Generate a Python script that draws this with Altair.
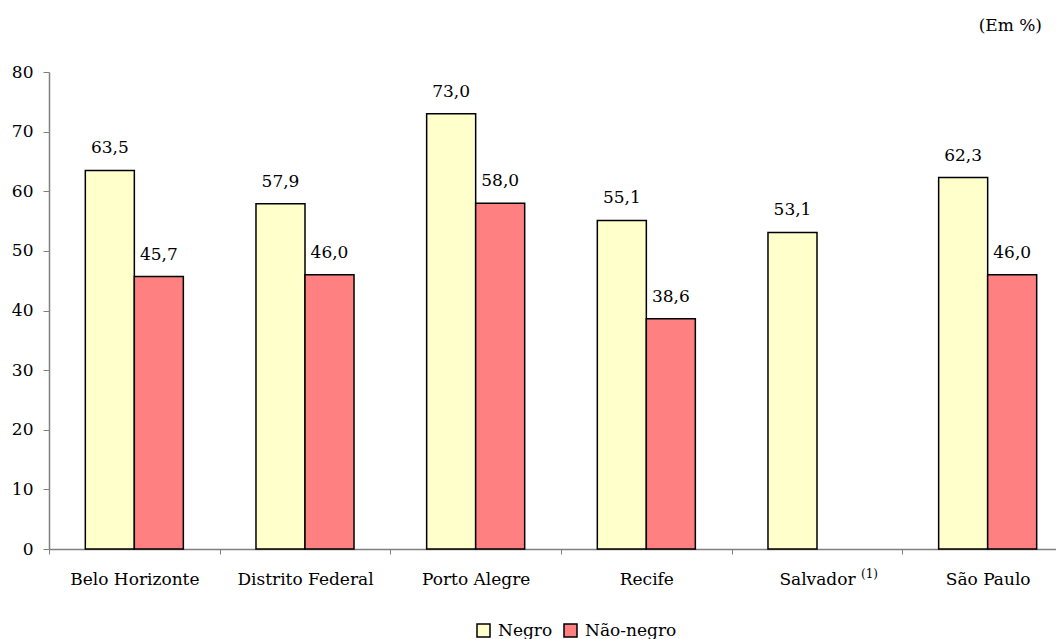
import altair as alt
import pandas as pd

cities = ["Belo Horizonte", "Distrito Federal", "Porto Alegre", "Recife", "Salvador", "São Paulo"]
negro = [63.5, 57.9, 73.0, 55.1, 53.1, 62.3]
nao_negro = [45.7, 46.0, 58.0, 38.6, None, 46.0]
groups = ["Negro", "Não-negro"]
colors = ["#FFFFCC", "#FF8080"]
y_ticks = [0, 10, 20, 30, 40, 50, 60, 70, 80]

rows = []
for c, a, b in zip(cities, negro, nao_negro):
    rows.append({"cidade": c, "grupo": "Negro", "valor": a})
    if b is not None:
        rows.append({"cidade": c, "grupo": "Não-negro", "valor": b})
df = pd.DataFrame(rows)

sup_df = pd.DataFrame({"cidade": ["Salvador"], "nota": ["(1)"]})

FONT = "DejaVu Serif"
FS = 17
AXIS_GRAY = "#808080"

x_enc = alt.X(
    "cidade:N",
    sort=cities,
    scale=alt.Scale(domain=cities, range=[0, 1024], paddingInner=0, paddingOuter=0),
    axis=alt.Axis(
        title=None, labelAngle=0, tickBand="extent",
        domainColor=AXIS_GRAY, domainWidth=1.5, tickColor=AXIS_GRAY, tickWidth=1,
        tickSize=5, labelPadding=17, labelFontSize=FS, labelFont=FONT,
        labelColor="black",
    ),
)
xoff_enc = alt.XOffset(
    "grupo:N", sort=groups,
    scale=alt.Scale(domain=groups, paddingInner=0, paddingOuter=0.741),
)
y_enc = alt.Y(
    "valor:Q",
    scale=alt.Scale(domain=[0, 80], nice=False),
    axis=alt.Axis(
        title=None, values=y_ticks, grid=False,
        domainColor=AXIS_GRAY, domainWidth=1.5, tickColor=AXIS_GRAY, tickWidth=1,
        tickSize=6, labelPadding=10, labelFontSize=FS, labelFont=FONT,
        labelColor="black",
    ),
)

base = alt.Chart(df).transform_calculate(
    rotulo="replace(format(datum.valor, '.1f'), '.', ',')"
)

bars = base.mark_bar(stroke="black", strokeWidth=1.5).encode(
    x=x_enc,
    xOffset=xoff_enc,
    y=y_enc,
    fill=alt.Fill(
        "grupo:N", sort=groups,
        scale=alt.Scale(domain=groups, range=colors),
        legend=alt.Legend(
            title=None, orient="none", direction="horizontal",
            legendX=426, legendY=550, padding=0,
            symbolType="square", symbolSize=169,
            symbolStrokeColor="black", symbolStrokeWidth=1.5,
            labelFontSize=FS, labelFont=FONT, labelColor="black",
            labelOffset=6, columnPadding=8,
        ),
    ),
)

labels = base.mark_text(
    baseline="alphabetic", dy=-17, fontSize=FS, font=FONT, color="black"
).encode(
    x=x_enc,
    xOffset=xoff_enc,
    y=y_enc,
    text="rotulo:N",
)

sup = alt.Chart(sup_df).mark_text(
    align="left", baseline="alphabetic", dx=44, fontSize=12, font=FONT, color="black"
).encode(
    x=alt.X("cidade:N", sort=cities),
    y=alt.value(506),
    text="nota:N",
)

chart = alt.layer(bars, labels, sup).properties(
    width=1007,
    height=477,
    title=alt.TitleParams(
        "(Em %)", anchor="end", frame="group", orient="top", offset=28, dx=-14,
        fontSize=FS, font=FONT, fontWeight="normal", color="black",
    ),
    autosize=alt.AutoSizeParams(type="none"),
    padding={"left": 41, "top": 64, "right": 0, "bottom": 90},
).configure_view(stroke=None)

chart.save("out.html", embed_options={"renderer": "svg", "actions": False})
